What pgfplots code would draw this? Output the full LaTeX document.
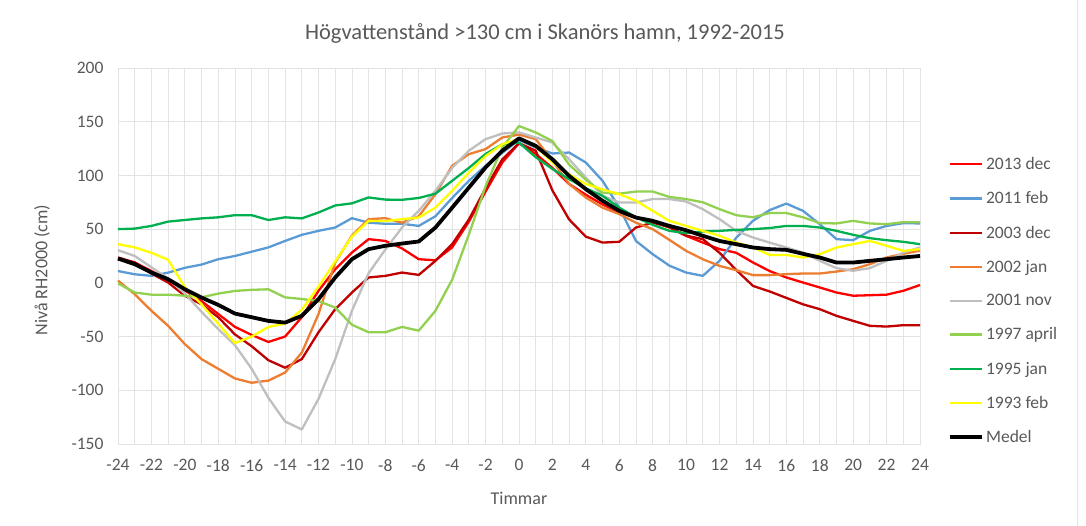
\documentclass[border=0pt]{standalone}
\usepackage{fontspec}
\setmainfont{Carlito}
\usepackage{pgfplots}
\usepackage{pgfplotstable}
\pgfplotsset{compat=1.18}
\definecolor{txt}{HTML}{595959}
\definecolor{cA}{HTML}{FF0000}
\definecolor{cB}{HTML}{5B9BD5}
\definecolor{cC}{HTML}{C00000}
\definecolor{cD}{HTML}{ED7D31}
\definecolor{cE}{HTML}{BFBFBF}
\definecolor{cF}{HTML}{92D050}
\definecolor{cG}{HTML}{00B050}
\definecolor{cH}{HTML}{FFFF00}
\definecolor{gridc}{HTML}{E3E3E3}
\pgfplotstableread{
h   d13    f11    d03    j02    n01    a97    j95    f93    med
-24 22     11     23.6   2      30.4   -0.5   50     36     22.6
-23 19     8      19     -10.5  25     -9     50.5   33     17.4
-22 11     6.5    8.7    -26    14.5   -11    53     28     9.6
-21 2.5    9.5    0.3    -40    4      -11    57     21.5   3.4
-20 -7     14     -12    -57    -10    -12    58.5   -4     -5.9
-19 -17    17     -20    -71    -27    -13.5  60     -20    -13.7
-18 -29    22     -32    -80    -43    -10    61     -38    -20.5
-17 -41    25     -48    -89    -58    -7.5   63     -56    -28.6
-16 -48.5  29     -59    -93    -80    -6.5   63     -50    -32
-15 -55    33     -72    -91    -107   -6     58.5   -41    -35.4
-14 -50    39     -79    -83.5  -129   -13.5  61     -38    -37
-13 -32    44.7   -71    -65    -136.5 -15    60     -25    -30.7
-12 -7.4   48.4   -46    -29    -108   -17    65.5   -3.5   -15.2
-11 12.7   51.5   -24.5  19     -71    -23    72     20     5
-10 28.2   60.2   -9     44     -26    -39    74     43     22
-9  40.7   56     5      59.3   9      -46    79.5   57.7   31.4
-8  39     55     6.5    60.2   31     -46    77.5   57.5   34.5
-7  32     55     9.6    56     51.5   -41    77.3   59.3   36.6
-6  22     53     7.4    62     67     -44.5  79     60.8   38.5
-5  21     62     20.5   82.6   85.7   -26    83     70     51.5
-4  33     79     36     109    107    3      95     85.7   70
-3  57     95     59     119.8  123    45     107    102.7  88.7
-2  85     109    88     124.5  133.8  90     120    118    107.4
-1  112    121    115    135.3  139    126    129    129    123
0   130    133    130    138    140    146    130.5  134    134.5
1   120    126    123    133.8  135.3  140    117    127    127.5
2   107    120.4  86     113.6  130.6  132    106    112    115
3   92     121.3  59     92     115    110    96.5   101    99.6
4   82     112    43     79.4   98     96     88     92     87.2
5   73     95     37.5   70     81     84     81     87     76.4
6   65.5   70     38.2   64     74.8   83     70     82.6   67
7   60.8   39     51.5   56     74.8   85     61     76.4   60.8
8   57     26.7   56     50     78     85     54     67     57.7
9   51.5   16     52     40     78     80     48.4   57.7   53
10  43.8   9.6    44     29.8   75.7   78     46.2   53     49
11  37.5   6.5    40.7   22     68.6   75     47.8   48.4   43.8
12  31.4   20.5   28     15.8   59.3   68.6   48.4   43.8   39
13  28     42     12     11.8   48.4   63     49.3   37.5   36
14  19     57.7   -2.8   7.2    42.2   61     50     32.9   32.9
15  11     67.7   -8     7.2    37.5   65     51     26     31.4
16  5      73.8   -14    8.1    32.9   65     53     26     30.7
17  0.3    67     -20    8.7    28.2   61     53     23.6   27
18  -4.3   54.6   -24.5  8.7    20.5   55.6   51.5   26.7   23.6
19  -9     40.7   -30.7  10.5   13.7   55.3   48.4   32.9   18.9
20  -12    39.7   -35.4  12.7   11.2   57.7   44.7   36     18.9
21  -11.5  48.4   -40    17.4   13.7   55.3   41.6   39     20.5
22  -11    53     -40.7  23.6   20.5   54.6   39.7   34.5   22
23  -7.4   55.6   -39.4  27     28.2   56.5   38.2   29.8   23.6
24  -2     55.3   -39.4  30     32.9   56.5   36     31.4   25
}\data
\begin{document}
\begin{tikzpicture}[x=1pt,y=1pt]
\path[use as bounding box] (0,0) rectangle (1086,526);
\draw[gridc, line width=0.8pt] (1077,0) -- (1077,526);
\begin{axis}[
  at={(118pt,82pt)}, anchor=south west,
  scale only axis, width=802pt, height=376pt,
  xmin=-24, xmax=24, ymin=-150, ymax=200,
  xtick={-24,-22,...,24}, minor xtick={-23,-21,...,23},
  ytick={-150,-100,...,200},
  grid=both,
  major grid style={draw=gridc, line width=0.8pt},
  minor grid style={draw=gridc, line width=0.8pt},
  axis line style={draw=gridc, line width=0.8pt},
  major tick length=0pt, minor tick length=0pt,
  /pgf/number format/assume math mode=true,
  ticklabel style={font=\fontsize{17.5}{20}\selectfont, text=txt},
  xticklabel style={yshift=-12pt},
  yticklabel style={xshift=-11pt},
  legend style={at={(1.035,0.768)}, anchor=north west, draw=none, fill=none,
    font=\fontsize{17.5}{20}\selectfont, text=txt, row sep=16.6pt, inner sep=0pt,
    cells={anchor=west}},
  legend image code/.code={\draw[#1] (0pt,0pt) -- (32pt,0pt);},
  every axis plot/.append style={line width=2.3pt, line join=round},
  clip=false,
]
\addplot[cA] table[x=h,y=d13]{\data}; \addlegendentry{2013 dec}
\addplot[cB] table[x=h,y=f11]{\data}; \addlegendentry{2011 feb}
\addplot[cC] table[x=h,y=d03]{\data}; \addlegendentry{2003 dec}
\addplot[cD] table[x=h,y=j02]{\data}; \addlegendentry{2002 jan}
\addplot[cE] table[x=h,y=n01]{\data}; \addlegendentry{2001 nov}
\addplot[cF] table[x=h,y=a97]{\data}; \addlegendentry{1997 april}
\addplot[cG] table[x=h,y=j95]{\data}; \addlegendentry{1995 jan}
\addplot[cH] table[x=h,y=f93]{\data}; \addlegendentry{1993 feb}
\addplot[black, line width=3.8pt] table[x=h,y=med]{\data}; \addlegendentry{Medel}
\end{axis}
\node[text=txt, font=\fontsize{22.5}{26}\selectfont] at (545,493) {Högvattenstånd >130 cm i Skanörs hamn, 1992-2015};
\node[text=txt, font=\fontsize{18}{20}\selectfont] at (519,28) {Timmar};
\node[text=txt, font=\fontsize{18}{20}\selectfont, rotate=90] at (42,256) {Nivå RH2000 (cm)};
\end{tikzpicture}
\end{document}
